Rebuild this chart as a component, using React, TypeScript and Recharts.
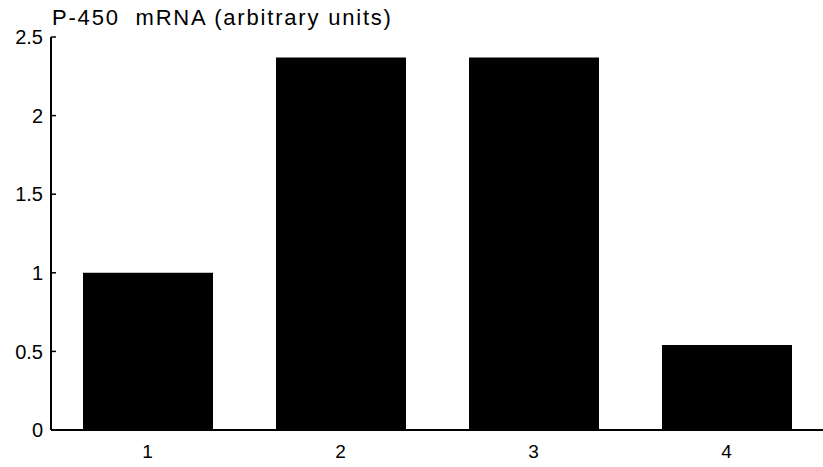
import React from 'react';
import { BarChart, Bar, XAxis, YAxis } from 'recharts';

const lanes = ['1', '2', '3', '4'];
const mrnaLevels = [1.0, 2.37, 2.37, 0.54];
const yTicks = [0, 0.5, 1, 1.5, 2, 2.5];

const data = lanes.map((lane, i) => ({ lane, value: mrnaLevels[i] }));

const font = '"Liberation Sans", Arial, sans-serif';

export default function App() {
  return (
    <div style={{ position: 'relative', width: 823, height: 467, background: '#fff', fontFamily: font }}>
      <style>{'body{margin:0}'}</style>
      <div style={{ position: 'absolute', left: 52, top: 5, fontSize: 22, color: '#000', letterSpacing: 1.8, whiteSpace: 'nowrap' }}>
        P-450&nbsp;&nbsp;mRNA (arbitrary units)
      </div>
      <BarChart width={823} height={467} data={data} margin={{ top: 37, right: 0, left: 0, bottom: 0 }}>
        <XAxis
          dataKey="lane"
          height={37}
          axisLine={{ stroke: '#000', strokeWidth: 2 }}
          tickLine={false}
          tickMargin={9}
          tick={{ fill: '#000', fontSize: 19, fontFamily: font }}
        />
        <YAxis
          width={51}
          domain={[0, 2.5]}
          ticks={yTicks}
          axisLine={{ stroke: '#000', strokeWidth: 2 }}
          tickLine={{ stroke: '#000', strokeWidth: 1.5 }}
          tickSize={-5}
          tickMargin={13}
          tick={{ fill: '#000', fontSize: 20, fontFamily: font }}
        />
        <Bar dataKey="value" fill="#000" barSize={130} isAnimationActive={false} />
      </BarChart>
    </div>
  );
}
